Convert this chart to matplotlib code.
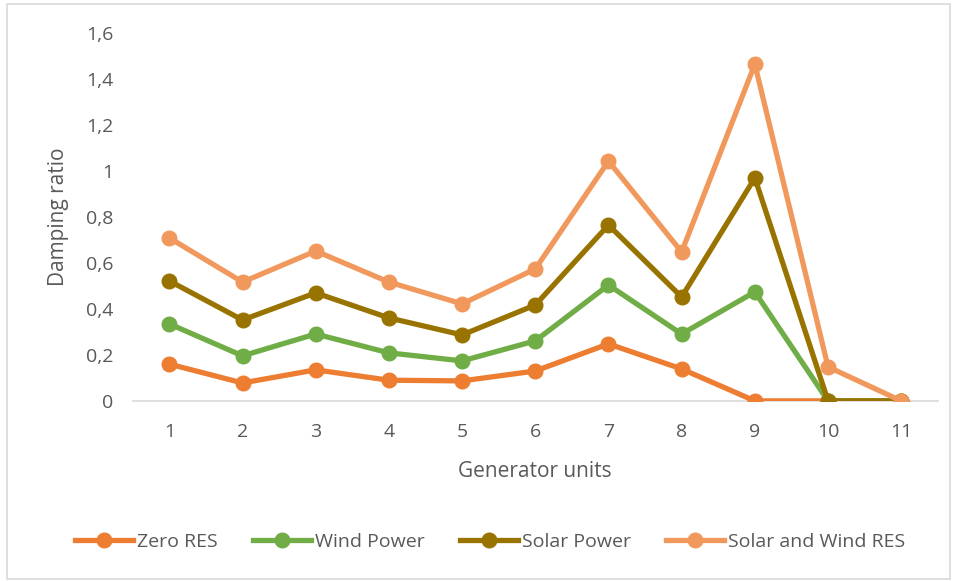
''' damping ratio line chart '''
import matplotlib
matplotlib.use('Agg')
import matplotlib.pyplot as plt
from matplotlib.ticker import FuncFormatter
from matplotlib.patches import Rectangle

units = [1, 2, 3, 4, 5, 6, 7, 8, 9, 10, 11]
zero_res = [0.16, 0.078, 0.135, 0.09, 0.087, 0.13, 0.248, 0.139, 0, 0, 0]
wind_power = [0.335, 0.196, 0.291, 0.209, 0.174, 0.261, 0.504, 0.291, 0.474, 0, 0]
solar_power = [0.522, 0.352, 0.47, 0.361, 0.287, 0.417, 0.765, 0.452, 0.97, 0, 0]
solar_wind = [0.709, 0.517, 0.652, 0.517, 0.422, 0.574, 1.043, 0.648, 1.465, 0.148, 0]

series = [
    ('Zero RES', zero_res, '#ED7D31'),
    ('Wind Power', wind_power, '#70AD47'),
    ('Solar Power', solar_power, '#997300'),
    ('Solar and Wind RES', solar_wind, '#F1995D'),
]

text_col = '#595959'
plt.rcParams['font.family'] = ['Open Sans', 'DejaVu Sans']

fig = plt.figure(figsize=(9.55, 5.81), dpi=100)
fig.patches.append(Rectangle((0.007, 0.003), 0.988, 0.99, transform=fig.transFigure,
                             fill=False, edgecolor='#D9D9D9', linewidth=1.2))
ax = fig.add_axes([0.139, 0.310, 0.843, 0.633])

for name, vals, col in series:
    ax.plot(units, vals, color=col, linewidth=3.8, marker='o', markersize=10.5,
            label=name, solid_joinstyle='round')

ax.set_xlim(0.5, 11.5)
ax.set_ylim(0, 1.6)
ax.set_yticks([0, 0.2, 0.4, 0.6, 0.8, 1.0, 1.2, 1.4, 1.6])
ax.yaxis.set_major_formatter(FuncFormatter(lambda v, p: f'{v:g}'.replace('.', ',')))
ax.set_xticks(units)

for s in ['top', 'right', 'left']:
    ax.spines[s].set_visible(False)
ax.spines['bottom'].set_color('#D9D9D9')
ax.spines['bottom'].set_linewidth(1.2)
ax.spines['bottom'].set_zorder(0)
ax.tick_params(axis='both', length=0, labelsize=14, colors=text_col)
ax.tick_params(axis='x', pad=16)
ax.tick_params(axis='y', pad=14)

ax.set_xlabel('Generator units', fontsize=15, color=text_col, labelpad=14)
ax.set_ylabel('Damping ratio', fontsize=15, color=text_col, labelpad=12)

fig.legend(loc='center', bbox_to_anchor=(0.513, 0.067), ncol=4, frameon=False,
           fontsize=14, labelcolor=text_col, handlelength=3, handletextpad=0.2,
           columnspacing=1.8, numpoints=1)

fig.savefig('out.png', dpi=100)
